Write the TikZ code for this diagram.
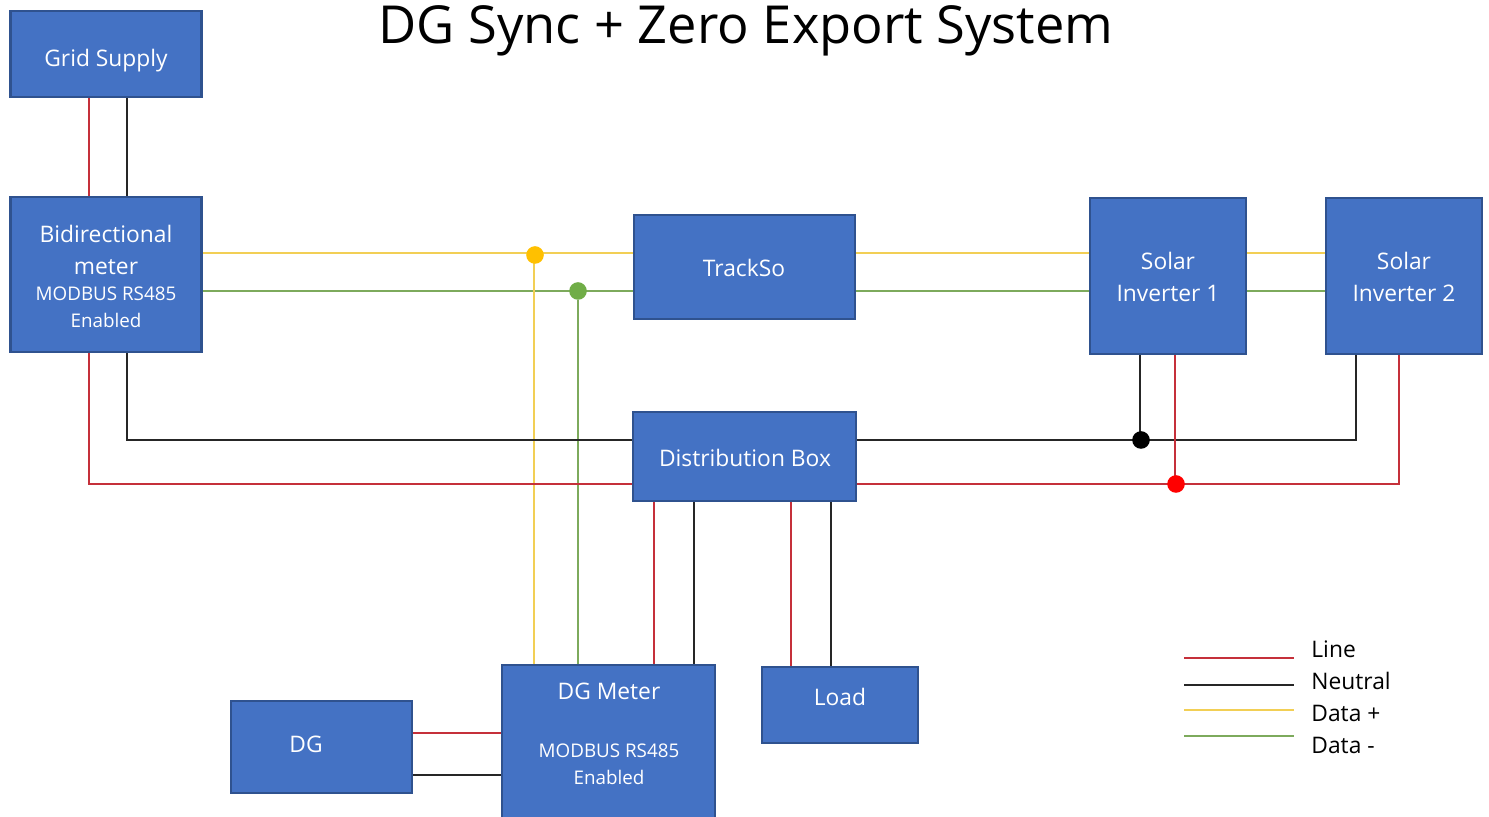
\documentclass[tikz,border=0pt]{standalone}
\usepackage{fontspec}
\usetikzlibrary{backgrounds}
\setmainfont{Open Sans}
\definecolor{boxblue}{HTML}{4472C4}
\definecolor{boxedge}{HTML}{2F528F}
\definecolor{wirered}{HTML}{C5303A}
\definecolor{wireyellow}{HTML}{F2CF55}
\definecolor{wiregreen}{HTML}{7DAA5C}
\definecolor{dotyellow}{HTML}{FFC000}
\definecolor{dotgreen}{HTML}{70AD47}
\tikzset{
  block/.style={draw=boxedge,fill=boxblue,line width=1.4pt,anchor=north west,inner sep=0pt,outer sep=0pt},
  blocktext/.style={text=white,align=center,inner sep=0pt,font=\fontsize{11.4}{16}\selectfont},
  smalltext/.style={text=white,align=center,inner sep=0pt,font=\fontsize{9.4}{13.4}\selectfont},
  livewire/.style={draw=wirered,line width=0.9pt},
  neutralwire/.style={draw=black!85,line width=0.9pt},
  dataplus/.style={draw=wireyellow,line width=0.9pt},
  dataminus/.style={draw=wiregreen,line width=0.8pt},
  joint/.style={circle,inner sep=0pt,minimum size=8.8pt},
  keytext/.style={anchor=west,inner sep=0pt,font=\fontsize{11.4}{14}\selectfont}
}
\begin{document}
\begin{tikzpicture}[x=0.5pt,y=-0.5pt]
\useasboundingbox (0,0) rectangle (1489,817);
\clip (0,0) rectangle (1489,817);

\node[inner sep=0pt,font=\fontsize{26.2}{30}\selectfont] (title) at (746,31) {DG Sync + Zero Export System};

% boxes
\node[block,minimum width=95.5pt,minimum height=43pt] (grid) at (10.5,11) {};
\node[blocktext] (gridtext) at (106,61) {Grid Supply};
\node[block,minimum width=95.5pt,minimum height=77.5pt] (bimeter) at (10.5,197) {};
\node[blocktext] (bimetertext) at (106,250) {Bidirectional\\meter};
\node[smalltext] (bimodbus) at (106,307) {MODBUS RS485\\Enabled};
\node[block,minimum width=110.5pt,minimum height=52pt] (trackso) at (634,215) {};
\node[blocktext] (tracksotext) at (744,268) {TrackSo};
\node[block,minimum width=78pt,minimum height=78pt] (solarone) at (1090,198) {};
\node[blocktext] (solaronetext) at (1168,277) {Solar\\Inverter 1};
\node[block,minimum width=78pt,minimum height=78pt] (solartwo) at (1326,198) {};
\node[blocktext] (solartwotext) at (1404,277) {Solar\\Inverter 2};
\node[block,minimum width=111.5pt,minimum height=44.5pt] (distbox) at (633,412) {};
\node[blocktext] (distboxtext) at (745,458) {Distribution Box};
\node[block,minimum width=106.5pt,minimum height=90pt] (dgmeter) at (502,665) {};
\node[blocktext] (dgmetertext) at (609,691) {DG Meter};
\node[smalltext] (dgmodbus) at (609,764) {MODBUS RS485\\Enabled};
\node[block,minimum width=78pt,minimum height=38pt] (load) at (762,667) {};
\node[blocktext] (loadtext) at (840,697) {Load};
\node[block,minimum width=90.5pt,minimum height=46pt] (dg) at (231,701) {};
\node[blocktext] (dgtext) at (306,744) {DG};

% joints
\node[joint,fill=dotyellow] (plusdot) at (535,255) {};
\node[joint,fill=dotgreen] (minusdot) at (578,291) {};
\node[joint,fill=black] (neutdot) at (1141,440) {};
\node[joint,fill=red] (linedot) at (1176,484) {};

% wire columns and rows
\coordinate (linecol) at (89,0);
\coordinate (neutcol) at (127,0);
\coordinate (pluscol) at (534,0);
\coordinate (plusrow) at (0,253);
\coordinate (minusrow) at (0,291);
\coordinate (neutrow) at (0,440);
\coordinate (linerow) at (0,484);
\coordinate (solaronen) at (1140,0);
\coordinate (solaronel) at (1175,0);
\coordinate (solartwon) at (1356,0);
\coordinate (solartwol) at (1399,0);
\coordinate (dgmetl) at (654,0);
\coordinate (dgmetn) at (694,0);
\coordinate (loadl) at (791,0);
\coordinate (loadn) at (831,0);
\coordinate (dgl) at (0,733);
\coordinate (dgn) at (0,775);

\begin{scope}[on background layer]
% grid to meter
\draw[livewire] (linecol |- grid.south) -- (linecol |- bimeter.north);
\draw[neutralwire] (neutcol |- grid.south) -- (neutcol |- bimeter.north);

% data bus
\draw[dataplus] (bimeter.east |- plusrow) -- (trackso.west |- plusrow);
\draw[dataminus] (bimeter.east |- minusrow) -- (trackso.west |- minusrow);
\draw[dataplus] (trackso.east |- plusrow) -- (solarone.west |- plusrow);
\draw[dataminus] (trackso.east |- minusrow) -- (solarone.west |- minusrow);
\draw[dataplus] (solarone.east |- plusrow) -- (solartwo.west |- plusrow);
\draw[dataminus] (solarone.east |- minusrow) -- (solartwo.west |- minusrow);
\draw[dataplus] (pluscol |- plusdot) -- (pluscol |- dgmeter.north);
\draw[dataminus] (minusdot) -- (minusdot |- dgmeter.north);

% meter to distribution box
\draw[neutralwire] (neutcol |- bimeter.south) -- (neutcol |- neutrow) -- (distbox.west |- neutrow);
\draw[livewire,line width=1.1pt] (linecol |- bimeter.south) -- (linecol |- linerow) -- (distbox.west |- linerow);

% distribution box to inverters
\draw[neutralwire] (distbox.east |- neutrow) -- (solartwon |- neutrow) -- (solartwon |- solartwo.south);
\draw[livewire,line width=1.1pt] (distbox.east |- linerow) -- (solartwol |- linerow) -- (solartwol |- solartwo.south);
\draw[neutralwire] (solaronen |- solarone.south) -- (solaronen |- neutdot);
\draw[livewire] (solaronel |- solarone.south) -- (solaronel |- linedot);

% distribution box to dg meter and load
\draw[livewire] (dgmetl |- distbox.south) -- (dgmetl |- dgmeter.north);
\draw[neutralwire] (dgmetn |- distbox.south) -- (dgmetn |- dgmeter.north);
\draw[livewire] (loadl |- distbox.south) -- (loadl |- load.north);
\draw[neutralwire] (loadn |- distbox.south) -- (loadn |- load.north);

% dg to dg meter
\draw[livewire] (dg.east |- dgl) -- (dgmeter.west |- dgl);
\draw[neutralwire] (dg.east |- dgn) -- (dgmeter.west |- dgn);
\end{scope}

% legend
\coordinate (keyl) at (1184,658);
\coordinate (keyn) at (1184,685);
\coordinate (keyp) at (1184,710);
\coordinate (keym) at (1184,736);
\coordinate (keylend) at (1294,658);
\coordinate (keynend) at (1294,685);
\coordinate (keypend) at (1294,710);
\coordinate (keymend) at (1294,736);
\node[keytext] (keyltext) at (1311,649) {Line};
\node[keytext] (keyntext) at (1311,681) {Neutral};
\node[keytext] (keyptext) at (1311,713) {Data +};
\node[keytext] (keymtext) at (1311,745) {Data -};
\draw[livewire] (keyl) -- (keylend);
\draw[neutralwire] (keyn) -- (keynend);
\draw[dataplus] (keyp) -- (keypend);
\draw[dataminus] (keym) -- (keymend);

\end{tikzpicture}
\end{document}
